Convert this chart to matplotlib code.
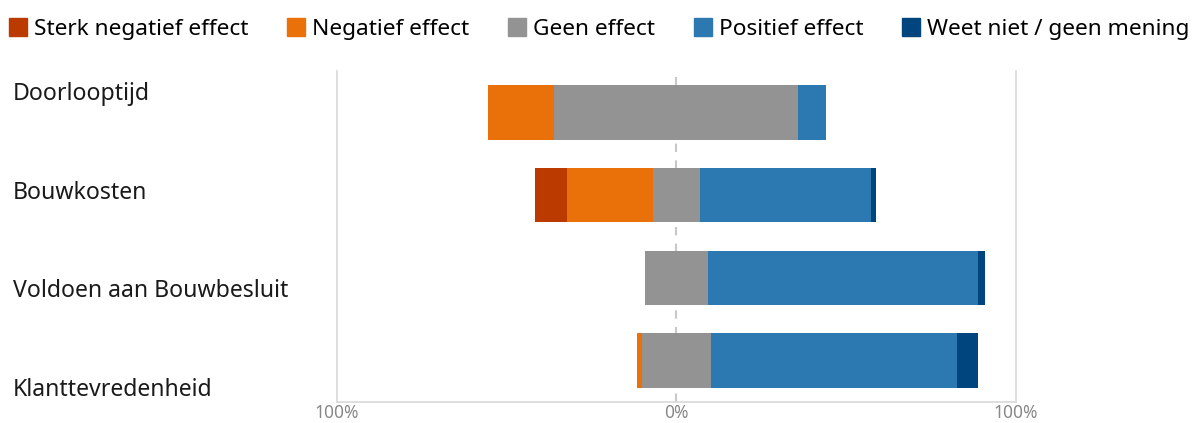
import matplotlib
matplotlib.use('Agg')
import matplotlib.pyplot as plt
import matplotlib.patches as mpatches
import numpy as np

plt.rcParams['font.family'] = ['Noto Sans', 'DejaVu Sans']

categories = ['Doorlooptijd', 'Bouwkosten', 'Voldoen aan Bouwbesluit', 'Klanttevredenheid']
series = ['Sterk negatief effect', 'Negatief effect', 'Geen effect',
          'Positief effect', 'Weet niet / geen mening']
sterk_negatief = [0.0, 9.4, 0.0, 0.0]
negatief = [19.7, 25.3, 0.0, 1.5]
geen = [71.9, 14.1, 18.3, 20.3]
positief = [8.2, 50.3, 79.8, 72.4]
weet_niet = [0.0, 1.5, 2.0, 6.2]
tick_values = [-100, 0, 100]
tick_labels = ['100%', '0%', '100%']

COLORS = ['#BB3A00', '#EA710A', '#939393', '#2C79B1', '#00457E']

fig = plt.figure(figsize=(12.03, 4.23), dpi=100)
ax = fig.add_axes([0.2801, 0.0496, 0.5644, 0.7825])

y = np.arange(len(categories))
sn = np.array(sterk_negatief)
ng = np.array(negatief)
ge = np.array(geen)
po = np.array(positief)
wn = np.array(weet_niet)

# neutral block centred on zero, negatives to the left, positives to the right
left_geen = -ge / 2
left_neg = left_geen - ng
left_sterk = left_neg - sn
left_pos = ge / 2
left_weet = left_pos + po

h = 0.66
ax.barh(y, sn, left=left_sterk, height=h, color=COLORS[0], label=series[0])
ax.barh(y, ng, left=left_neg, height=h, color=COLORS[1], label=series[1])
ax.barh(y, ge, left=left_geen, height=h, color=COLORS[2], label=series[2])
ax.barh(y, po, left=left_pos, height=h, color=COLORS[3], label=series[3])
ax.barh(y, wn, left=left_weet, height=h, color=COLORS[4], label=series[4])

ax.axvline(0, color='#c8c8c8', linestyle=(0, (4, 4)), linewidth=1.5, zorder=0)

ax.set_xlim(-100, 100)
ax.set_ylim(len(categories) - 0.5, -0.5)
ax.set_yticks([])
ax.set_xticks(tick_values)
ax.set_xticklabels(tick_labels, color='#888888', fontsize=12.5)
ax.tick_params(axis='x', length=0, pad=1.5)
for side in ['left', 'right', 'bottom']:
    ax.spines[side].set_color('#d9d9d9')
    ax.spines[side].set_linewidth(1.2)
ax.spines['top'].set_visible(False)

# category labels on the left, spread evenly down the plot
label_ys = np.linspace(1 - 94 / 423, 1 - 390 / 423, len(categories))
for name, ly in zip(categories, label_ys):
    fig.text(13 / 1203, ly, name, ha='left', va='center', fontsize=16.6, color='#1a1a1a')

handles = [mpatches.Patch(color=c, label=s) for c, s in zip(COLORS, series)]
fig.legend(handles=handles, loc='upper left', bbox_to_anchor=(-0.006, 0.994), ncol=5,
           frameon=False, fontsize=16.3, handlelength=0.8, handleheight=0.8,
           handletextpad=0.32, columnspacing=1.7, borderaxespad=0.3)

fig.savefig('out.png', dpi=100)
